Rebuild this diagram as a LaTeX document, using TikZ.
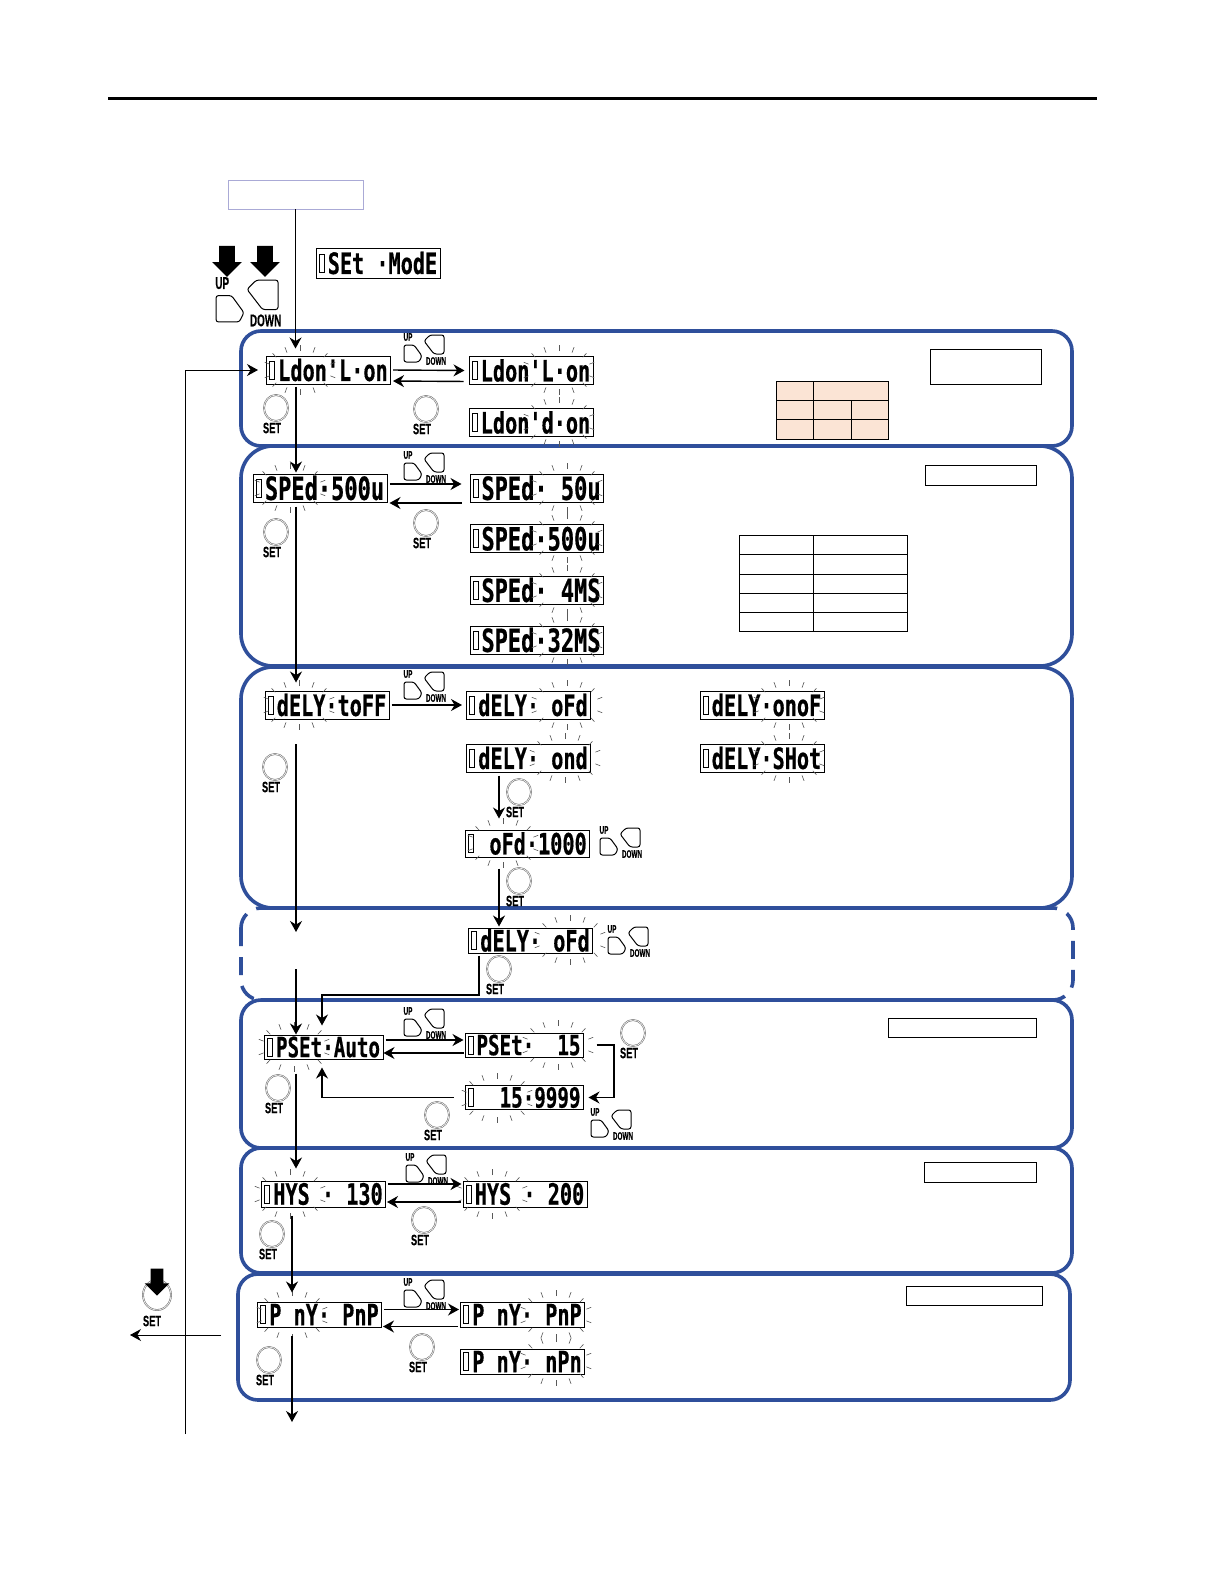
\documentclass[tikz,border=0pt]{standalone}
\usepackage{fontspec}
\usepackage{graphicx}
\usepackage{xcolor}
\usetikzlibrary{arrows.meta,shapes.geometric,shapes.arrows}
\newfontfamily\lcdfont{DejaVu Sans Mono Bold}[FakeBold=.6]
\newfontfamily\keyfont{Liberation Sans Bold}[FakeBold=.3]
\definecolor{panelblue}{RGB}{47,79,155}
\definecolor{peach}{RGB}{251,228,213}
\definecolor{lilac}{RGB}{170,170,214}
\newcommand{\lcd}[2][10.1]{\hspace*{4.5pt}\scalebox{1}[1.45]{\lcdfont\fontsize{#1}{10}\selectfont #2}}
\newcommand{\keytxt}[2][.62]{\scalebox{#1}[1]{\keyfont #2}}
\newcommand{\flash}[2]{\foreach \a in {18,42,66,90,114,138,162,198,222,246,270,294,318,342}
  \draw[ray] ({#1+32*cos(\a)},{#2+19*sin(\a)}) -- ({#1+37*cos(\a)},{#2+25*sin(\a)});}
\newcommand{\setkey}[3]{\node[keydisc] (#1) at (#2,#3) {};
  \node[keylab] (#1-lab) at ({#2-4},{#3+20}) {\keytxt{SET}};}
\begin{document}
\begin{tikzpicture}[x=.5pt,y=-.5pt,>=Stealth]
\tikzset{lcd/.style={draw,line width=.5pt,inner sep=0pt,minimum width=62pt,minimum height=14pt,fill=white,
    path picture={\draw[line width=.3pt] ([xshift=1.6pt,yshift=-4.5pt]path picture bounding box.west) rectangle ++(2.4pt,9pt);}},
  panel/.style={draw=panelblue,line width=1.8pt,rounded corners=10pt},
  arr/.style={-{Stealth[length=5.5pt,width=6pt]},line width=.7pt,shorten >=1pt,shorten <=1pt},
  thinarr/.style={arr,line width=.5pt},
  ray/.style={draw=black!65,line width=.3pt},
  tagbox/.style={draw,line width=.5pt,fill=white},
  keydisc/.style={ellipse,draw=black!55,line width=.3pt,double=white,double distance=.3pt,inner sep=0pt,minimum width=12pt,minimum height=13pt},
  keylab/.style={inner sep=0pt,font=\fontsize{7.5}{8}\selectfont},
  pressdown/.style={single arrow,shape border rotate=270,fill=black,inner sep=3.75pt,single arrow head indent=0pt,single arrow head extend=3.5pt,single arrow tip angle=90,minimum height=15.5pt},
  keypad/.style={line width=.5pt,rounded corners=1.2pt},
  pics/updn/.style={code={
    \draw[keypad] (1,12) -- (11,12) -- (19,23) -- (16,29) -- (1,29) -- cycle;
    \draw[keypad] (27,2) -- (41,2) -- (41,21) -- (31,21) -- (21,8) -- cycle;
    \node[inner sep=0pt,font=\fontsize{5.5}{6}\selectfont] (-up) at (5,4) {\keytxt[.58]{UP}};
    \node[inner sep=0pt,font=\fontsize{5.5}{6}\selectfont] (-dn) at (33,28) {\keytxt[.58]{DOWN}};
  }}}
\useasboundingbox (0,0) rectangle (1224,1584);
\fill[white] (0,0) rectangle (1224,1584);
\draw[line width=1.5pt] (108,99) -- (1097,99);
% panels
\draw[panel,dash pattern=on 9pt off 5.5pt] (241,908) rectangle (1073,1000);
\draw[panel] (241,331) rectangle (1072,446);
\draw[panel,rounded corners=16pt] (241,446) rectangle (1072,666);
\draw[panel,rounded corners=16pt] (241,667) rectangle (1072,908);
\draw[panel] (241,1000) rectangle (1072,1148);
\draw[panel] (241,1148) rectangle (1072,1273);
\draw[panel] (238,1274) rectangle (1070,1400);
% blank tags and tables
\draw[tagbox] (930,349) rectangle (1041,384);
\draw[tagbox] (925,465) rectangle (1036,485);
\draw[tagbox] (888,1018) rectangle (1036,1037);
\draw[tagbox] (924,1162) rectangle (1036,1182);
\draw[tagbox] (906,1286) rectangle (1042,1305);
\draw[line width=.5pt,fill=peach] (776,381) rectangle (888,439);
\draw[line width=.5pt] (776,400) -- (888,400) (776,419) -- (888,419) (813,381) -- (813,439) (851,400) -- (851,439);
\draw[line width=.5pt] (739,535) rectangle (907,631) (813,535) -- (813,631);
\foreach \yy in {554,574,593,612} \draw[line width=.5pt] (739,\yy) -- (907,\yy);
% displays
\node[draw=lilac,line width=.4pt,minimum width=67.5pt,minimum height=14.5pt,inner sep=0pt] (enter) at (295.5,194.5) {};
\node[lcd,minimum height=15pt] (setm) at (378,263) {\lcd{SEt~·ModE}};
\node[lcd] (ldon1) at (328.5,370) {\lcd{Ldon'L·on}};
\node[lcd] (ldon2) at (531,370.5) {\lcd{Ldon'L·on}};
\node[lcd] (ldon3) at (531,422.5) {\lcd{Ldon'd·on}};
\node[lcd,minimum width=67pt] (sped1) at (320,488) {\lcd[11]{SPEd·500u}};
\node[lcd,minimum width=66.5pt] (sped2) at (536.5,488) {\lcd[11]{SPEd·~50u}};
\node[lcd,minimum width=66.5pt] (sped3) at (536.5,538.5) {\lcd[11]{SPEd·500u}};
\node[lcd,minimum width=66.5pt] (sped4) at (536.5,590) {\lcd[11]{SPEd·~4MS}};
\node[lcd,minimum width=66.5pt] (sped5) at (536.5,640) {\lcd[11]{SPEd·32MS}};
\node[lcd] (dely1) at (327,705) {\lcd{dELY·toFF}};
\node[lcd] (dely2) at (528.5,705) {\lcd{dELY·~oFd}};
\node[lcd] (dely3) at (528.5,758) {\lcd{dELY·~ond}};
\node[lcd] (dely4) at (762,705) {\lcd{dELY·onoF}};
\node[lcd] (dely5) at (762,758) {\lcd{dELY·SHot}};
\node[lcd,minimum height=13.5pt] (ofd) at (527.5,843.5) {\lcd{~oFd·1000}};
\node[lcd,minimum height=12.5pt] (dely6) at (530.5,940.5) {\lcd{dELY·~oFd}};
\node[lcd,minimum width=59.5pt,minimum height=12pt] (pset1) at (323.5,1047) {\lcd[9.6]{PSEt·Auto}};
\node[lcd,minimum width=59pt,minimum height=12pt] (pset2) at (524,1045) {\lcd[9.6]{PSEt·~~15}};
\node[lcd,minimum width=59pt,minimum height=12pt] (pset3) at (524,1097.5) {\lcd[9.6]{~~15·9999}};
\node[lcd,minimum height=13pt] (hys1) at (323.5,1194) {\lcd{HYS~·~130}};
\node[lcd,minimum height=13pt] (hys2) at (525,1194) {\lcd{HYS~·~200}};
\node[lcd,minimum height=12.5pt] (pny1) at (319.5,1314.5) {\lcd{P~nY·~PnP}};
\node[lcd,minimum height=12.5pt] (pny2) at (522.5,1314.5) {\lcd{P~nY·~PnP}};
\node[lcd,minimum height=12.5pt] (pny3) at (522.5,1361.5) {\lcd{P~nY·~nPn}};
% blinking
\flash{300}{370}\flash{559}{370}\flash{559}{422}
\flash{290}{488}\flash{567}{488}\flash{567}{538}\flash{567}{590}\flash{567}{640}
\flash{299}{705}\flash{567}{705}\flash{565}{758}\flash{789}{705}\flash{789}{758}\flash{503}{843}
\flash{570}{940}\flash{294}{1047}\flash{558}{1045}\flash{497}{1098}
\flash{290}{1194}\flash{492}{1194}\flash{292}{1315}\flash{556}{1315}\flash{556}{1361}
% keys
\node[pressdown] (pressup) at (227,257.5) {};
\node[pressdown] (pressdn) at (265,257.5) {};
\pic[scale=1.55,transform shape] (udbig) at (214.5,277) {updn};
\pic (ud1) at (403,333) {updn};
\pic (ud2) at (403,451) {updn};
\pic (ud3) at (403,670) {updn};
\pic (ud4) at (599,826) {updn};
\pic (ud5) at (607,925) {updn};
\pic (ud6) at (403,1007) {updn};
\pic (ud7) at (590,1108) {updn};
\pic (ud8) at (405,1153) {updn};
\pic (ud9) at (403,1278) {updn};
\setkey{k1a}{276}{408}\setkey{k1b}{426}{409}
\setkey{k2a}{276}{532}\setkey{k2b}{426}{523}
\setkey{k3a}{275}{767}\setkey{k3b}{519}{792}\setkey{k3c}{519}{881}
\setkey{k4}{499}{969}
\setkey{k5a}{278}{1088}\setkey{k5b}{437}{1115}\setkey{k5c}{633}{1033}
\setkey{k6a}{272}{1234}\setkey{k6b}{424}{1220}
\setkey{k7a}{269}{1360}\setkey{k7b}{422}{1347}
\node[keydisc,minimum width=14pt,minimum height=15pt] (kexit) at (157,1295) {};
\node[keylab] (kexit-lab) at (152,1321) {\keytxt{SET}};
\node[pressdown,inner sep=3pt,minimum height=13.5pt,single arrow head extend=3pt] (pressexit) at (157,1279) {};
% free ends
\coordinate (spineA) at (296,0);
\coordinate (spineB) at (292,0);
\coordinate (spineC) at (322,0);
\coordinate (spineD) at (499,0);
\coordinate (retlow) at (185,1436);
\coordinate (longtop) at (296,744);
\coordinate (longend) at (296,932);
\coordinate (pickup) at (296,969);
\coordinate (dlyturn) at (479,995);
\coordinate (bendR) at (614,1070);
\coordinate (exitfrom) at (223,1335);
\coordinate (exitto) at (130,1335);
\coordinate (pnyend) at (292,1422);
% connectors
\draw[thinarr,shorten <=0pt,shorten >=3.5pt] (enter.south) -- (enter.south |- ldon1.north);
\draw[thinarr,shorten >=4pt] (retlow) |- (ldon1.west);
\draw[thinarr,shorten >=0pt] (exitfrom) -- (exitto);
\draw[arr,shorten >=2pt] (ldon1.east) -- (ldon2.west);
\draw[arr,shorten <=2.5pt] ([yshift=-5.5pt]ldon2.west) -- ([yshift=-5.5pt]ldon1.east);
\draw[arr,shorten >=.5pt] (ldon1.south -| spineA) -- (sped1.north -| spineA);
\draw[arr,shorten >=4pt] ([yshift=2pt]sped1.east) -- ([yshift=2pt]sped2.west);
\draw[arr,shorten <=4pt] ([yshift=-7.5pt]sped2.west) -- ([yshift=-7.5pt]sped1.east);
\draw[arr,shorten <=2pt,shorten >=4pt] (sped1.south -| spineA) -- (dely1.north -| spineA);
\draw[arr,shorten >=2pt] (dely1.east) -- (dely2.west);
\draw[arr,shorten <=1.5pt,shorten >=5.5pt] (dely3.south -| spineD) -- (ofd.north -| spineD);
\draw[arr,shorten <=5.5pt,shorten >=.5pt] (ofd.south -| spineD) -- (dely6.north -| spineD);
\draw[arr,shorten <=0pt,shorten >=0pt] (longtop) -- (longend);
\draw[arr,shorten <=0pt,shorten >=0pt] (pickup) -- (pickup |- pset1.north);
\draw[arr,shorten >=4.5pt] (dely6.south -| dlyturn) -- (dlyturn) -- (spineC |- dlyturn) -- (spineC |- pset1.north);
\draw[arr,shorten >=.5pt] ([yshift=3.5pt]pset1.east) -- ([yshift=3.5pt]pset1.east -| pset2.west);
\draw[arr,shorten >=0pt,shorten <=.5pt] ([yshift=-4pt]pset2.west) -- ([yshift=-4pt]pset2.west -| pset1.east);
\draw[arr,shorten <=6.5pt,shorten >=2.5pt] (pset2.east) -| (bendR) |- (pset3.east);
\draw[arr,shorten <=5.5pt,shorten >=4pt] (pset3.west) -| (spineC |- pset1.south);
\draw[arr,shorten <=7pt,shorten >=6pt] (pset1.south -| spineA) -- (hys1.north -| spineA);
\draw[arr,shorten >=.5pt] ([yshift=5pt]hys1.east) -- ([yshift=5pt]hys2.west);
\draw[arr,shorten >=.5pt] ([yshift=-4pt]hys2.west) -- ([yshift=-4pt]hys1.east);
\draw[arr,shorten <=4pt,shorten >=4.5pt] (hys1.south -| spineB) -- (pny1.north -| spineB);
\draw[arr,shorten >=.5pt] ([yshift=2.5pt]pny1.east) -- ([yshift=2.5pt]pny2.west);
\draw[arr,shorten >=.5pt] ([yshift=-6pt]pny2.west) -- ([yshift=-6pt]pny1.east);
\draw[arr,shorten <=4pt,shorten >=0pt] (pny1.south -| spineB) -- (pnyend);
\end{tikzpicture}
\end{document}
